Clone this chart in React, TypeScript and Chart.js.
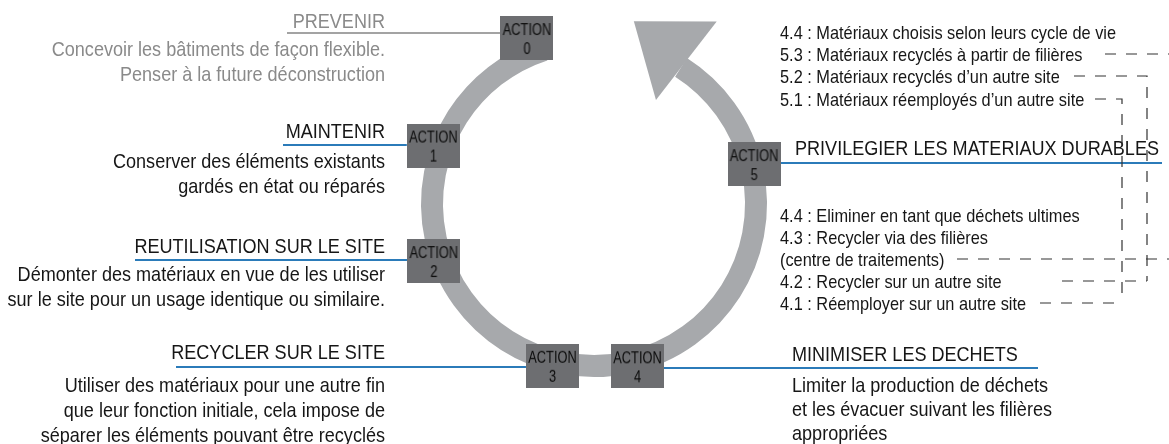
import React, { useEffect, useRef } from 'react';
import { Chart, registerables } from 'chart.js';

Chart.register(...registerables);

// ---------- data ----------
const actionNumbers = ['0', '1', '2', '3', '4', '5'];
const actionTitles = [
  'PREVENIR',
  'MAINTENIR',
  'REUTILISATION SUR LE SITE',
  'RECYCLER SUR LE SITE',
  'MINIMISER LES DECHETS',
  'PRIVILEGIER LES MATERIAUX DURABLES',
];
const actionDescriptions: string[][] = [
  ['Concevoir les bâtiments de façon flexible.', 'Penser à la future déconstruction'],
  ['Conserver des éléments existants', 'gardés en état ou réparés'],
  ['Démonter des matériaux en vue de les utiliser', 'sur le site pour un usage identique ou similaire.'],
  ['Utiliser des matériaux pour une autre fin', 'que leur fonction initiale, cela impose de', 'séparer les éléments pouvant être recyclés'],
  ['Limiter la production de déchets', 'et les évacuer suivant les filières', 'appropriées'],
  [],
];
const materialItems = [
  '4.4 : Matériaux choisis selon leurs cycle de vie',
  '5.3 : Matériaux recyclés à partir de filières',
  '5.2 : Matériaux recyclés d\u2019un autre site',
  '5.1 : Matériaux réemployés d\u2019un autre site',
];
const wasteItems = [
  '4.4 : Eliminer en tant que déchets ultimes',
  '4.3 : Recycler via des filières',
  '(centre de traitements)',
  '4.2 : Recycler sur un autre site',
  '4.1 : Réemployer sur un autre site',
];
// links: materialItems row -> wasteItems row
const linkFromRows = [1, 2, 3];
const linkToRows = [2, 3, 4];

// ---------- layout (positions / styles) ----------
const W = 1169;
const H = 444;
const SX = 0.86; // condensed text
const FONT = '"Liberation Sans", Arial, sans-serif';
const RING = { cx: 594, cy: 204, r: 162, width: 22, start: -57.5, end: 252 };
const HEAD = { innerA: -59.2, innerR: 121, outerA: -56.1, outerR: 220, tipA: -77.7, tipR: 187 };
const boxAngles = [-112, -160, 160.4, 104.4, 75, -14];
const boxRadii = [179, 171, 170, 167, 168, 165];
const BOX_W = 53;
const BOX_H = 44;
const RING_COLOR = '#a7a9ac';
const BOX_COLOR = '#6d6e71';
const BLUE = '#2b7bb9';
const TEXT = '#161616';
const GREY_TEXT = '#8a8a8a';

type TL = { side: 'left' | 'right'; x: number; y: number; lineY: number; lineEnd: number; descY: number; step: number; color: string; lineColor: string };
const titleLayout: TL[] = [
  { side: 'left', x: 385, y: 28, lineY: 33, lineEnd: 287, descY: 56, step: 25, color: GREY_TEXT, lineColor: '#a3a3a3' },
  { side: 'left', x: 385, y: 138, lineY: 145, lineEnd: 283, descY: 168, step: 25, color: TEXT, lineColor: BLUE },
  { side: 'left', x: 385, y: 253, lineY: 260, lineEnd: 135, descY: 281, step: 25, color: TEXT, lineColor: BLUE },
  { side: 'left', x: 385, y: 359, lineY: 367, lineEnd: 176, descY: 392, step: 25, color: TEXT, lineColor: BLUE },
  { side: 'right', x: 792, y: 361, lineY: 368, lineEnd: 1038, descY: 392, step: 24, color: TEXT, lineColor: BLUE },
  { side: 'right', x: 795, y: 155, lineY: 163, lineEnd: 1162, descY: 0, step: 0, color: TEXT, lineColor: BLUE },
];
const LIST_X = 780;
const materialY = [39, 61, 83, 106];
const wasteY = [222, 244, 266, 288, 310];
const linkColumnX = [1170, 1147, 1122];
const linkFromStartX = [1105, 1074, 1095];
const linkToStartX = [957, 1062, 1040];
const DASH_OFF = 7;

const rad = (d: number) => (d * Math.PI) / 180;

function drawText(ctx: CanvasRenderingContext2D, s: string, x: number, y: number, align: CanvasTextAlign, size: number, color: string, sx = SX) {
  ctx.save();
  ctx.translate(x, y);
  ctx.scale(sx, 1);
  ctx.font = `${size}px ${FONT}`;
  ctx.fillStyle = color;
  ctx.textAlign = align;
  ctx.textBaseline = 'alphabetic';
  ctx.fillText(s, 0, 0);
  ctx.restore();
}

function makeBox(n: string): HTMLCanvasElement {
  const c = document.createElement('canvas');
  c.width = BOX_W;
  c.height = BOX_H;
  const g = c.getContext('2d')!;
  g.fillStyle = BOX_COLOR;
  g.fillRect(0, 0, BOX_W, BOX_H);
  drawText(g, 'ACTION', BOX_W / 2, 19, 'center', 16, '#0c0c0c', 0.8);
  drawText(g, n, BOX_W / 2, 38, 'center', 16, '#0c0c0c', 0.8);
  return c;
}

const boxPoints = actionNumbers.map((_, i) => ({
  x: RING.cx + boxRadii[i] * Math.cos(rad(boxAngles[i])),
  y: RING.cy + boxRadii[i] * Math.sin(rad(boxAngles[i])),
}));

const diagramPlugin = {
  id: 'diagram',
  beforeDatasetsDraw(chart: any) {
    const ctx: CanvasRenderingContext2D = chart.ctx;
    const xs = chart.scales.x;
    const ys = chart.scales.y;
    const px = (v: number) => xs.getPixelForValue(v);
    const py = (v: number) => ys.getPixelForValue(v);
    const k = px(1) - px(0);
    const cx = px(RING.cx);
    const cy = py(RING.cy);
    const polar = (a: number, r: number): [number, number] => [cx + r * k * Math.cos(rad(a)), cy + r * k * Math.sin(rad(a))];
    ctx.save();
    // ring
    ctx.strokeStyle = RING_COLOR;
    ctx.lineWidth = RING.width * k;
    ctx.lineCap = 'butt';
    ctx.beginPath();
    ctx.arc(cx, cy, RING.r * k, rad(RING.start), rad(RING.end), false);
    ctx.stroke();
    // arrow head
    ctx.fillStyle = RING_COLOR;
    ctx.beginPath();
    ctx.moveTo(...polar(HEAD.innerA, HEAD.innerR));
    ctx.lineTo(...polar(HEAD.outerA, HEAD.outerR));
    ctx.lineTo(...polar(HEAD.tipA, HEAD.tipR));
    ctx.closePath();
    ctx.fill();
    // title lines
    ctx.lineWidth = 2;
    titleLayout.forEach((t, i) => {
      const bxp = px(boxPoints[i].x);
      ctx.strokeStyle = t.lineColor;
      ctx.beginPath();
      if (t.side === 'left') {
        ctx.moveTo(px(t.lineEnd), py(t.lineY));
        ctx.lineTo(bxp - BOX_W / 2, py(t.lineY));
      } else {
        ctx.moveTo(bxp + BOX_W / 2, py(t.lineY));
        ctx.lineTo(px(t.lineEnd), py(t.lineY));
      }
      ctx.stroke();
    });
    ctx.restore();
  },
  afterDatasetsDraw(chart: any) {
    const ctx: CanvasRenderingContext2D = chart.ctx;
    const xs = chart.scales.x;
    const ys = chart.scales.y;
    const px = (v: number) => xs.getPixelForValue(v);
    const py = (v: number) => ys.getPixelForValue(v);
    // titles and descriptions
    titleLayout.forEach((t, i) => {
      const align: CanvasTextAlign = t.side === 'left' ? 'right' : 'left';
      drawText(ctx, actionTitles[i], px(t.x), py(t.y), align, 21, t.color);
      actionDescriptions[i].forEach((line, j) => {
        drawText(ctx, line, px(t.x), py(t.descY + j * t.step), align, 21, t.color);
      });
    });
    // lists
    materialItems.forEach((s, i) => drawText(ctx, s, px(LIST_X), py(materialY[i]), 'left', 19, TEXT));
    wasteItems.forEach((s, i) => drawText(ctx, s, px(LIST_X), py(wasteY[i]), 'left', 19, TEXT));
    // dashed connectors
    ctx.save();
    ctx.strokeStyle = '#333333';
    ctx.lineWidth = 1.2;
    ctx.setLineDash([11, 10]);
    linkFromRows.forEach((fr, i) => {
      const y1 = materialY[fr] - DASH_OFF;
      const y2 = wasteY[linkToRows[i]] - DASH_OFF;
      const colX = linkColumnX[i];
      ctx.beginPath();
      ctx.moveTo(px(linkFromStartX[i]), py(y1));
      ctx.lineTo(px(colX), py(y1));
      ctx.lineTo(px(colX), py(y2));
      ctx.stroke();
      ctx.beginPath();
      ctx.moveTo(px(linkToStartX[i]), py(y2));
      ctx.lineTo(px(colX), py(y2));
      ctx.stroke();
    });
    ctx.restore();
  },
};

export default function App() {
  const ref = useRef<HTMLCanvasElement>(null);
  useEffect(() => {
    document.body.style.margin = '0';
    const canvas = ref.current!;
    const images = actionNumbers.map((n) => makeBox(n));
    const chart = new Chart(canvas, {
      type: 'scatter',
      data: {
        datasets: [
          {
            data: boxPoints,
            pointStyle: images as any,
            pointRadius: 5,
            showLine: false,
            clip: false as any,
          },
        ],
      },
      options: {
        responsive: false,
        animation: false,
        devicePixelRatio: 1,
        events: [],
        layout: { padding: 0, autoPadding: false },
        plugins: { legend: { display: false }, tooltip: { enabled: false } },
        scales: {
          x: { type: 'linear', min: 0, max: W, display: false },
          y: { type: 'linear', min: 0, max: H, reverse: true, display: false },
        },
      },
      plugins: [diagramPlugin],
    });
    return () => chart.destroy();
  }, []);
  return (
    <div style={{ width: W, height: H, background: '#ffffff' }}>
      <canvas ref={ref} width={W} height={H} style={{ display: 'block' }} />
    </div>
  );
}
